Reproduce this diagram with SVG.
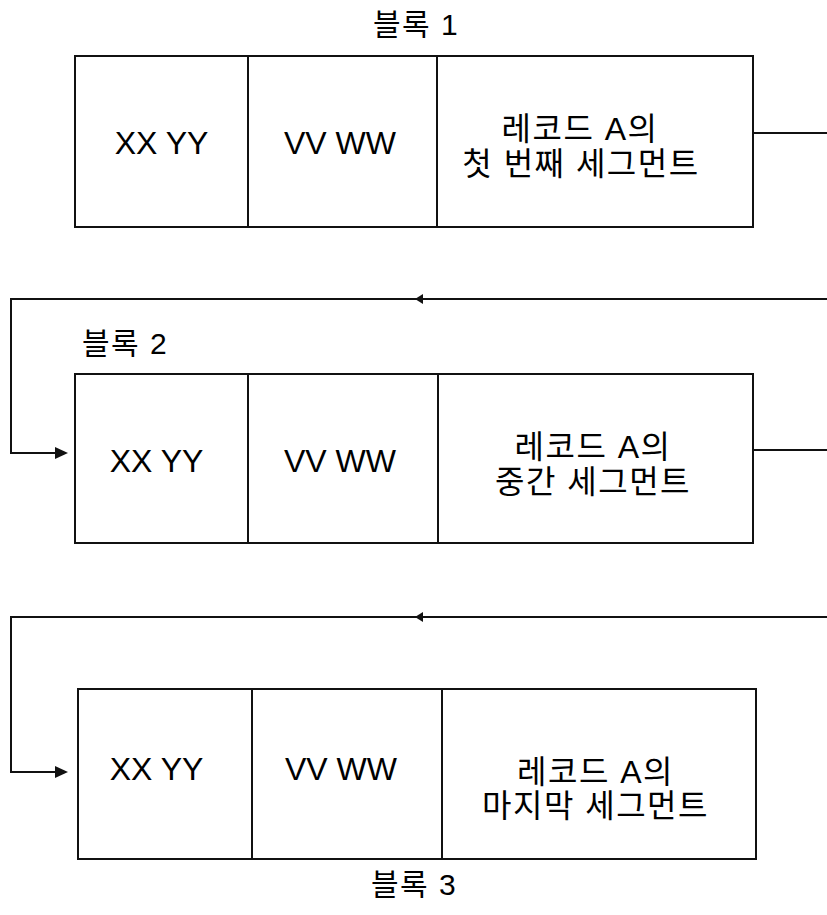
<svg xmlns="http://www.w3.org/2000/svg" width="827" height="915" viewBox="0 0 827 915">
<style>
.box{fill:#fff;stroke:#111;stroke-width:2}
.div{stroke:#111;stroke-width:2}
.ln{fill:none;stroke:#111;stroke-width:2}
.ah{fill:#111;stroke:none}
.t{font-family:"Liberation Sans","Noto Sans CJK KR",Arial,sans-serif;font-size:32px;fill:#000;text-anchor:middle}
.k{font-family:"Liberation Sans","Noto Sans CJK KR",sans-serif;font-size:32px;letter-spacing:1.5px;fill:#000;text-anchor:middle}
.lb{font-family:"Liberation Sans","Noto Sans CJK KR",sans-serif;font-size:30px;letter-spacing:1.5px;fill:#000}
</style>
<rect width="827" height="915" fill="#fff"/>
<g id="connectors">
<path class="ln" d="M753,133 H827"/>
<path class="ln" d="M827,299 H11 V453 H58"/>
<polygon class="ah" points="415,299 423,294 423,304"/>
<polygon class="ah" points="68,453 55,447 55,459"/>
<path class="ln" d="M753,450 H827"/>
<path class="ln" d="M827,617 H11 V772 H58"/>
<polygon class="ah" points="415,617 423,612 423,622"/>
<polygon class="ah" points="68,772 55,766 55,778"/>
</g>
<g id="block1">
<text class="lb" x="416" y="35" text-anchor="middle">블록 1</text>
<rect class="box" x="75" y="56" width="678" height="171"/>
<line class="div" x1="248" y1="56" x2="248" y2="227"/>
<line class="div" x1="437" y1="56" x2="437" y2="227"/>
<text class="t" x="161.5" y="154">XX YY</text>
<text class="t" x="340" y="154">VV WW</text>
<text class="k" x="580" y="140">레코드 A의</text>
<text class="k" x="581" y="175">첫 번째 세그먼트</text>
</g>
<g id="block2">
<text class="lb" x="82" y="354">블록 2</text>
<rect class="box" x="75" y="374" width="678" height="169"/>
<line class="div" x1="248" y1="374" x2="248" y2="543"/>
<line class="div" x1="438" y1="374" x2="438" y2="543"/>
<text class="t" x="156.5" y="472">XX YY</text>
<text class="t" x="340" y="472">VV WW</text>
<text class="k" x="593" y="458">레코드 A의</text>
<text class="k" x="593" y="493">중간 세그먼트</text>
</g>
<g id="block3">
<rect class="box" x="78" y="689" width="678" height="170"/>
<line class="div" x1="252" y1="689" x2="252" y2="859"/>
<line class="div" x1="442" y1="689" x2="442" y2="859"/>
<text class="t" x="156.5" y="780">XX YY</text>
<text class="t" x="341" y="780">VV WW</text>
<text class="k" x="595.5" y="783">레코드 A의</text>
<text class="k" x="595.5" y="817">마지막 세그먼트</text>
<text class="lb" x="414" y="895" text-anchor="middle">블록 3</text>
</g>
</svg>
